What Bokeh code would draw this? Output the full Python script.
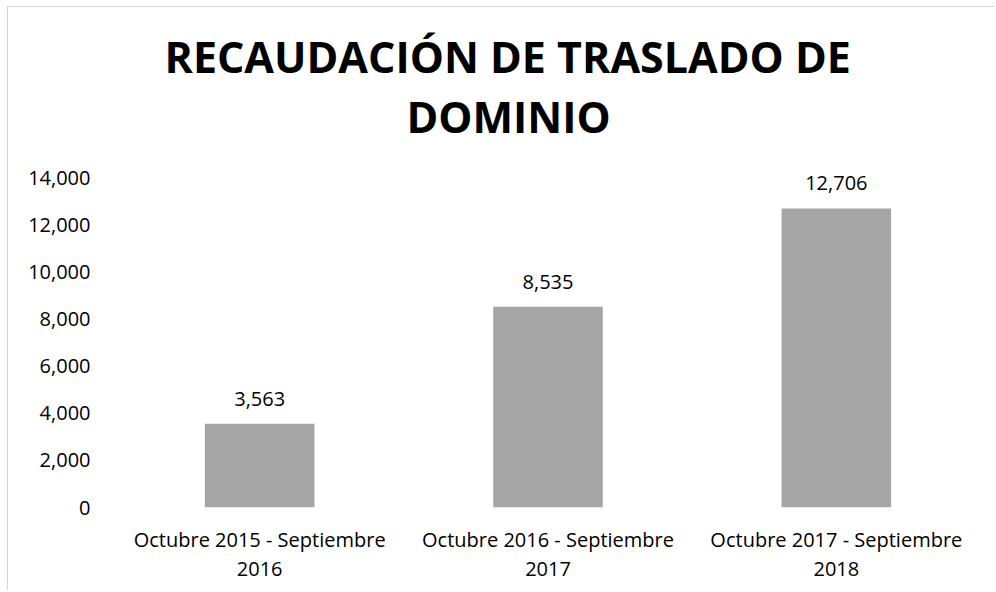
from bokeh.plotting import figure
from bokeh.models import (ColumnDataSource, FactorRange, Range1d, FixedTicker,
                          NumeralTickFormatter, LabelSet, Title)
from bokeh.core.properties import value
from bokeh.embed import file_html
from bokeh.resources import INLINE

# ---- data ----
title_lines = ["RECAUDACIÓN DE TRASLADO DE", "DOMINIO"]
categories = ["Octubre 2015 - Septiembre\n2016",
              "Octubre 2016 - Septiembre\n2017",
              "Octubre 2017 - Septiembre\n2018"]
values = [3563, 8535, 12706]
value_labels = ["3,563", "8,535", "12,706"]
y_ticks = [0, 2000, 4000, 6000, 8000, 10000, 12000, 14000]

FONT = "Open Sans"
TXT = "#000000"

src = ColumnDataSource(dict(cat=categories, val=values, lab=value_labels))

# y range extends a little past the top tick so the top data label is not clipped
p = figure(width=987, height=584, output_backend="svg", toolbar_location=None,
           x_range=FactorRange(*categories, range_padding=0),
           y_range=Range1d(0, 15000),
           min_border_left=107, min_border_right=15,
           min_border_top=147, min_border_bottom=84,
           outline_line_color=None, background_fill_color="white",
           border_fill_color="white")
p.title.visible = False
p.styles = {"margin-left": "7px", "margin-top": "6px",
            "border-left": "1px solid #d4d4d4", "border-top": "1px solid #d4d4d4"}

p.vbar(x="cat", top="val", width=0.38, source=src,
       fill_color="#a5a5a5", line_color=None)

p.add_layout(LabelSet(x="cat", y="val", text="lab", source=src,
                      y_offset=18, text_align="center", text_baseline="alphabetic",
                      text_font=value(FONT), text_font_size="20px", text_color=TXT))

# axes
p.xgrid.visible = False
p.ygrid.visible = False
for ax in (p.xaxis[0], p.yaxis[0]):
    ax.axis_line_color = None
    ax.major_tick_line_color = None
    ax.minor_tick_line_color = None
    ax.major_tick_out = 0
    ax.major_tick_in = 0
    ax.major_label_text_font = FONT
    ax.major_label_text_font_size = "20px"
    ax.major_label_text_color = TXT

p.yaxis.ticker = FixedTicker(ticks=y_ticks)
p.yaxis.formatter = NumeralTickFormatter(format="0,0")
p.yaxis.major_label_standoff = 25
p.xaxis.major_label_standoff = 18
p.xaxis.major_label_text_line_height = 1.1

# title: second line first (closest to the plot), then first line above it
p.add_layout(Title(text=title_lines[1], align="left", offset=291, standoff=17,
                   text_font=FONT, text_font_size="43px", text_font_style="bold",
                   text_color=TXT), "above")
p.add_layout(Title(text=title_lines[0], align="left", offset=49, standoff=-19,
                   text_font=FONT, text_font_size="43px", text_font_style="bold",
                   text_color=TXT), "above")

open("out.html", "w").write(file_html(p, INLINE))
